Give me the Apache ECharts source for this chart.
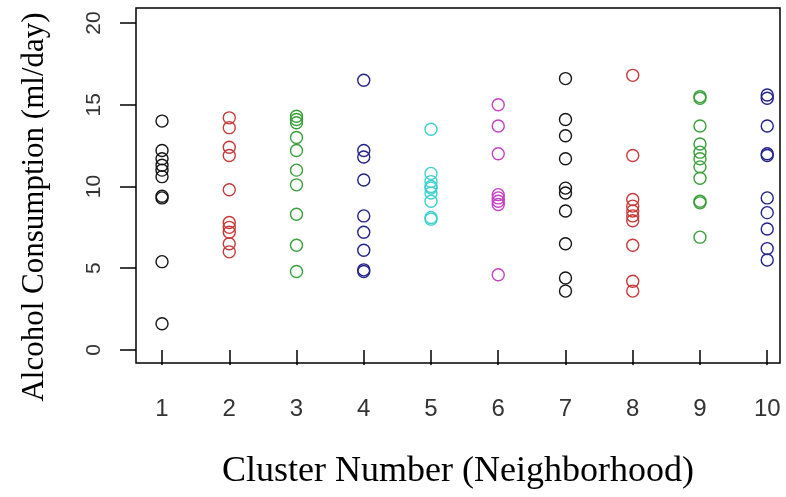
<!DOCTYPE html>
<html>
<head>
<meta charset="utf-8">
<script src="https://cdn.jsdelivr.net/npm/echarts@6/dist/echarts.min.js"></script>
<style>html,body{margin:0;padding:0;background:#fff}#c{width:786px;height:497px}</style>
</head>
<body>
<div id="c"></div>
<script>
var xTicks = [1,2,3,4,5,6,7,8,9,10];
var yTicks = [0,5,10,15,20];
var cluster1 = [14.0, 12.2, 11.7, 11.3, 11.0, 10.6, 9.4, 9.3, 5.4, 1.6];
var cluster2 = [14.2, 13.6, 12.4, 11.9, 9.8, 7.8, 7.5, 7.2, 6.5, 6.0];
var cluster3 = [14.3, 14.1, 13.9, 13.0, 12.2, 11.0, 10.1, 8.3, 6.4, 4.8];
var cluster4 = [16.5, 12.2, 11.8, 10.4, 8.2, 7.2, 6.1, 4.9, 4.8];
var cluster5 = [13.5, 10.8, 10.3, 10.0, 9.9, 9.6, 9.1, 8.1, 8.0];
var cluster6 = [15.0, 13.7, 12.0, 9.5, 9.3, 9.1, 8.9, 4.6];
var cluster7 = [16.6, 14.1, 13.1, 11.7, 9.9, 9.6, 8.5, 6.5, 4.4, 3.6];
var cluster8 = [16.8, 11.9, 9.2, 8.8, 8.5, 8.2, 7.9, 6.4, 4.2, 3.6];
var cluster9 = [15.5, 15.4, 13.7, 12.6, 12.1, 11.7, 11.2, 10.5, 9.1, 9.0, 6.9];
var cluster10 = [15.6, 15.4, 13.7, 12.0, 11.9, 9.3, 8.4, 7.4, 6.2, 5.5];
var clusterColors = ['#151515','#c83a3a','#3aa03a','#22228a','#3fd0d0','#c440c4','#151515','#c83a3a','#3aa03a','#22228a'];

var clusters = [cluster1,cluster2,cluster3,cluster4,cluster5,cluster6,cluster7,cluster8,cluster9,cluster10];
var series = clusters.map(function(vals, i){
  return {
    type: 'scatter',
    symbol: 'circle',
    symbolSize: 12,
    silent: true,
    data: vals.map(function(v){ return [xTicks[i], v]; }),
    itemStyle: { color: 'rgba(0,0,0,0)', borderColor: clusterColors[i], borderWidth: 1.4, opacity: 1 }
  };
});

var chart = echarts.init(document.getElementById('c'), null, {renderer: 'canvas'});
chart.setOption({
  animation: false,
  backgroundColor: '#fff',
  grid: { left: 136, top: 8, right: 6, bottom: 134, show: true, borderColor: '#000', borderWidth: 1.5, backgroundColor: 'transparent' },
  xAxis: {
    type: 'value', min: 0.613, max: 10.19,
    splitLine: { show: false },
    axisLine: { show: false },
    axisTick: { show: true, customValues: xTicks, length: 15, inside: false, lineStyle: { color: '#000', width: 1.5 } },
    axisLabel: { customValues: xTicks, margin: 34, fontSize: 24, color: '#333', fontFamily: 'Liberation Sans' },
    name: 'Cluster Number (Neighborhood)', nameLocation: 'middle', nameGap: 91,
    nameTextStyle: { fontFamily: 'Liberation Serif', fontSize: 36, color: '#000' }
  },
  yAxis: {
    type: 'value', min: -0.8, max: 20.92,
    splitLine: { show: false },
    axisLine: { show: false },
    axisTick: { show: true, customValues: yTicks, length: 16, inside: false, lineStyle: { color: '#000', width: 1.5 } },
    axisLabel: { customValues: yTicks, margin: 31, rotate: 90, fontSize: 21, color: '#333', fontFamily: 'Liberation Sans' }
  },
  graphic: [{
    type: 'text', x: 35, y: 207, rotation: Math.PI/2,
    style: { text: 'Alcohol Consumption (ml/day)', fontFamily: 'Liberation Serif', fontSize: 31, fill: '#000', align: 'center', verticalAlign: 'middle' }
  }],
  series: series
});
</script>
</body>
</html>
